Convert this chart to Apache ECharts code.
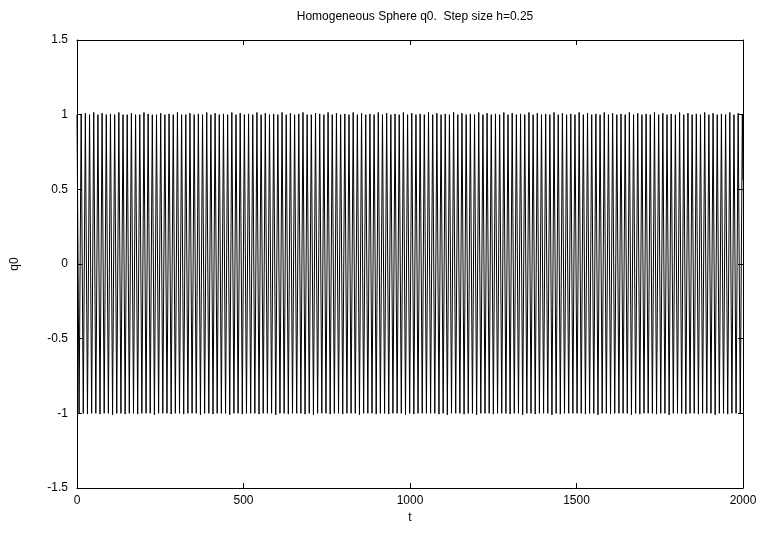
<!DOCTYPE html>
<html>
<head>
<meta charset="utf-8">
<script src="https://cdn.jsdelivr.net/npm/echarts@6/dist/echarts.min.js"></script>
<style>
  html, body { margin: 0; padding: 0; background: #fff; }
  #chart { width: 764px; height: 535px; }
</style>
</head>
<body>
<div id="chart"></div>
<script>
// turning points of q0 (time, value)
const tExt = [
    0, 6.28, 12.57, 18.85, 25.13, 31.42, 37.70, 43.98, 50.27, 56.55,
    62.83, 69.11, 75.40, 81.68, 87.96, 94.25, 100.53, 106.81, 113.10, 119.38,
    125.66, 131.94, 138.23, 144.51, 150.79, 157.08, 163.36, 169.64, 175.93, 182.21,
    188.50, 194.78, 201.07, 207.35, 213.63, 219.92, 226.20, 232.48, 238.77, 245.05,
    251.33, 257.61, 263.90, 270.18, 276.46, 282.75, 289.03, 295.31, 301.60, 307.88,
    314.16, 320.44, 326.73, 333.01, 339.29, 345.58, 351.86, 358.14, 364.43, 370.71,
    376.99, 383.27, 389.56, 395.84, 402.12, 408.41, 414.69, 420.97, 427.26, 433.54,
    439.82, 446.10, 452.39, 458.67, 464.95, 471.24, 477.52, 483.80, 490.09, 496.37,
    502.65, 508.93, 515.22, 521.50, 527.78, 534.07, 540.35, 546.63, 552.92, 559.20,
    565.49, 571.77, 578.06, 584.34, 590.62, 596.91, 603.19, 609.47, 615.76, 622.04,
    628.32, 634.60, 640.89, 647.17, 653.45, 659.74, 666.02, 672.30, 678.59, 684.87,
    691.15, 697.43, 703.72, 710.00, 716.28, 722.57, 728.85, 735.13, 741.42, 747.70,
    753.98, 760.26, 766.55, 772.83, 779.11, 785.40, 791.68, 797.96, 804.25, 810.53,
    816.81, 823.09, 829.38, 835.66, 841.94, 848.23, 854.51, 860.79, 867.08, 873.36,
    879.65, 885.93, 892.22, 898.50, 904.78, 911.07, 917.35, 923.63, 929.92, 936.20,
    942.48, 948.76, 955.05, 961.33, 967.61, 973.90, 980.18, 986.46, 992.75, 999.03,
    1005.31, 1011.59, 1017.88, 1024.16, 1030.44, 1036.73, 1043.01, 1049.29, 1055.58, 1061.86,
    1068.14, 1074.42, 1080.71, 1086.99, 1093.27, 1099.56, 1105.84, 1112.12, 1118.41, 1124.69,
    1130.97, 1137.25, 1143.54, 1149.82, 1156.10, 1162.39, 1168.67, 1174.95, 1181.24, 1187.52,
    1193.81, 1200.09, 1206.38, 1212.66, 1218.94, 1225.23, 1231.51, 1237.79, 1244.08, 1250.36,
    1256.64, 1262.92, 1269.21, 1275.49, 1281.77, 1288.06, 1294.34, 1300.62, 1306.91, 1313.19,
    1319.47, 1325.75, 1332.04, 1338.32, 1344.60, 1350.89, 1357.17, 1363.45, 1369.74, 1376.02,
    1382.30, 1388.58, 1394.87, 1401.15, 1407.43, 1413.72, 1420.00, 1426.28, 1432.57, 1438.85,
    1445.13, 1451.41, 1457.70, 1463.98, 1470.26, 1476.55, 1482.83, 1489.11, 1495.40, 1501.68,
    1507.96, 1514.24, 1520.53, 1526.81, 1533.09, 1539.38, 1545.66, 1551.94, 1558.23, 1564.51,
    1570.80, 1577.08, 1583.37, 1589.65, 1595.93, 1602.22, 1608.50, 1614.78, 1621.07, 1627.35,
    1633.63, 1639.91, 1646.20, 1652.48, 1658.76, 1665.05, 1671.33, 1677.61, 1683.90, 1690.18,
    1696.46, 1702.74, 1709.03, 1715.31, 1721.59, 1727.88, 1734.16, 1740.44, 1746.73, 1753.01,
    1759.29, 1765.57, 1771.86, 1778.14, 1784.42, 1790.71, 1796.99, 1803.27, 1809.56, 1815.84,
    1822.12, 1828.40, 1834.69, 1840.97, 1847.25, 1853.54, 1859.82, 1866.10, 1872.39, 1878.67,
    1884.96, 1891.24, 1897.53, 1903.81, 1910.09, 1916.38, 1922.66, 1928.94, 1935.23, 1941.51,
    1947.79, 1954.07, 1960.36, 1966.64, 1972.92, 1979.21, 1985.49, 1991.77, 1998.06, 2000
];
const qExt = [
    1, -1, 1.005, -1, 1.01, -1.005, 1, -1, 1.015, -1,
    1, -1.005, 1.01, -1, 1, -1, 1.005, -1.01, 1, -1,
    1.015, -1, 1, -1.005, 1, -1, 1.01, -1, 1, -1.005,
    1, -1, 1.015, -1, 1.005, -1, 1, -1.01, 1, -1,
    1.01, -1, 1, -1, 1.005, -1.005, 1, -1, 1.015, -1,
    1, -1.005, 1, -1, 1.01, -1, 1, -1, 1.005, -1.01,
    1, -1, 1.015, -1, 1, -1.005, 1.01, -1, 1, -1,
    1.005, -1, 1, -1.01, 1.015, -1, 1, -1, 1.01, -1.005,
    1, -1, 1.005, -1, 1, -1, 1.015, -1.005, 1, -1,
    1.01, -1, 1, -1, 1.005, -1.01, 1, -1, 1.015, -1,
    1, -1.005, 1.01, -1, 1, -1, 1.005, -1, 1.015, -1.005,
    1, -1, 1, -1.01, 1.01, -1, 1.005, -1, 1, -1,
    1.015, -1.005, 1, -1, 1.01, -1, 1, -1.005, 1.005, -1,
    1, -1, 1.015, -1, 1, -1.01, 1.01, -1, 1, -1,
    1.005, -1, 1, -1.005, 1.015, -1, 1, -1, 1.01, -1.005,
    1, -1, 1.005, -1, 1, -1, 1.015, -1.01, 1, -1,
    1.01, -1.005, 1, -1, 1.005, -1, 1, -1, 1.015, -1,
    1, -1, 1.01, -1.005, 1, -1, 1.005, -1.01, 1, -1,
    1.015, -1, 1, -1, 1.01, -1.005, 1, -1, 1.005, -1,
    1, -1.01, 1.015, -1, 1, -1, 1.01, -1, 1, -1.005,
    1.005, -1, 1, -1, 1.015, -1, 1, -1.005, 1.01, -1,
    1, -1, 1.005, -1.01, 1, -1, 1.015, -1, 1, -1.005,
    1.01, -1, 1, -1, 1.005, -1, 1, -1.01, 1.015, -1,
    1, -1.005, 1.01, -1, 1, -1, 1.005, -1, 1, -1,
    1.015, -1, 1, -1.005, 1.01, -1, 1, -1, 1.005, -1.01,
    1, -1, 1.015, -1, 1, -1.005, 1.01, -1, 1, -1,
    1.005, -1, 1, -1, 1.015, -1.01, 1, -1, 1.01, -1.005,
    1, -1, 1.005, -1, 1, -1, 1.015, -1.005, 1, -1,
    1.01, -1, 1, -1.01, 1.005, -1, 1, -1, 1.015, -1,
    1, -1.005, 1.01, -1, 1, -1, 1.005, -1.005, 1, -1,
    1.015, -1, 1, -1, 1.01, -1.01, 1, -1, 1.005, -1,
    1, -1.005, 1.015, -1, 1, -1, 1.01, -1, 1, 0.56
];
const xTicks = [0, 500, 1000, 1500, 2000];
const yTicks = [-1.5, -1, -0.5, 0, 0.5, 1, 1.5];

document.addEventListener('DOMContentLoaded', function() {
    const chart = echarts.init(document.getElementById('chart'), null, { renderer: 'canvas' });
    const font = '"Liberation Sans", Arial, Helvetica, sans-serif';
    const series = tExt.map(function(t, i) { return [t, qExt[i]]; });

    // gnuplot-like box: every side has a line and inward ticks
    function boxAxis(extra) {
        return Object.assign({
            type: 'value',
            axisLine: { show: true, onZero: false, lineStyle: { color: '#000', width: 1 } },
            axisTick: { show: true, inside: true, length: 5, lineStyle: { color: '#000' } },
            splitLine: { show: false }
        }, extra);
    }
    const labelStyle = {
        fontFamily: font, fontSize: 12, color: '#000',
        formatter: function(v) { return String(v); }
    };

    const option = {
        animation: false,
        backgroundColor: '#fff',
        title: {
            text: 'Homogeneous Sphere q0.  Step size h=0.25',
            left: 410,
            top: 6,
            textAlign: 'center',
            textStyle: { fontFamily: font, fontSize: 12, fontWeight: 'normal', color: '#000' }
        },
        grid: { left: 77, right: 21, top: 40, bottom: 47, containLabel: false },
        xAxis: [
            boxAxis({
                position: 'bottom',
                min: xTicks[0],
                max: xTicks[xTicks.length - 1],
                interval: 500,
                name: 't',
                nameLocation: 'middle',
                nameGap: 24,
                nameTextStyle: { fontFamily: font, fontSize: 12, color: '#000' },
                axisLabel: Object.assign({ margin: 7 }, labelStyle)
            }),
            boxAxis({
                position: 'top',
                min: xTicks[0],
                max: xTicks[xTicks.length - 1],
                interval: 500,
                axisLabel: { show: false }
            })
        ],
        yAxis: [
            boxAxis({
                position: 'left',
                min: yTicks[0],
                max: yTicks[yTicks.length - 1],
                interval: 0.5,
                name: 'q0',
                nameLocation: 'middle',
                nameGap: 56,
                nameTextStyle: { fontFamily: font, fontSize: 12, color: '#000' },
                axisLabel: Object.assign({ margin: 9 }, labelStyle)
            }),
            boxAxis({
                position: 'right',
                min: yTicks[0],
                max: yTicks[yTicks.length - 1],
                interval: 0.5,
                axisLabel: { show: false }
            })
        ],
        series: [{
            type: 'line',
            data: series,
            showSymbol: false,
            symbol: 'none',
            lineStyle: { color: '#000', width: 1 },
            xAxisIndex: 0,
            yAxisIndex: 0
        }]
    };
    chart.setOption(option);
});
</script>
</body>
</html>
